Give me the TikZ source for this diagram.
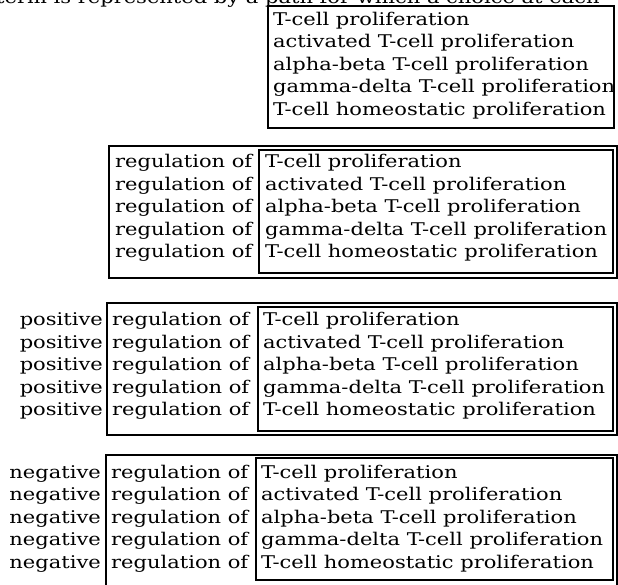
\documentclass[tikz,border=0pt]{standalone}
\usepackage{fontspec}
\setmainfont[FakeStretch=1.2]{DejaVu Serif}

\tikzset{
  term/.style={anchor=base west,inner sep=0pt,font=\fontsize{17.5}{17.5}\selectfont},
  qual/.style={anchor=base east,inner sep=0pt,font=\fontsize{17.5}{17.5}\selectfont},
  frame/.style={line width=1.5pt}
}

\begin{document}
\begin{tikzpicture}[x=1pt,y=-1pt]
		\useasboundingbox (0,0) rectangle (618,584);
		\clip (0,0) rectangle (618,584);
		% running text cut off at the top
		\node[term] (para) at (-4,3) {term is represented by a path for which a choice at each};
		% block 1: the bare terms
		\draw[frame] (268,6) rectangle (614,128);
		\foreach \t [count=\i] in {T-cell proliferation,activated T-cell proliferation,alpha-beta T-cell proliferation,gamma-delta T-cell proliferation,T-cell homeostatic proliferation}
			\node[term] (a\i) at (273,{2.5+22.5*\i}) {\t};
		% block 2: regulation of
		\draw[frame] (109,146) rectangle (617,278);
		\draw[frame] (259,150) rectangle (613,273);
		\foreach \t [count=\i] in {T-cell proliferation,activated T-cell proliferation,alpha-beta T-cell proliferation,gamma-delta T-cell proliferation,T-cell homeostatic proliferation}{
			\node[term] (r\i) at (115,{145+22.5*\i}) {regulation of};
			\node[term] (b\i) at (265,{145+22.5*\i}) {\t};
		}
		% block 3: positive regulation of
		\draw[frame] (107,303) rectangle (617,435);
		\draw[frame] (258,307) rectangle (613,431);
		\foreach \t [count=\i] in {T-cell proliferation,activated T-cell proliferation,alpha-beta T-cell proliferation,gamma-delta T-cell proliferation,T-cell homeostatic proliferation}{
			\node[qual] (p\i) at (103,{303+22.5*\i}) {positive};
			\node[term] (pr\i) at (112,{303+22.5*\i}) {regulation of};
			\node[term] (c\i) at (263,{303+22.5*\i}) {\t};
		}
		% block 4: negative regulation of
		\draw[frame] (106,455) rectangle (617,586);
		\draw[frame] (256,458) rectangle (613,580);
		\foreach \t [count=\i] in {T-cell proliferation,activated T-cell proliferation,alpha-beta T-cell proliferation,gamma-delta T-cell proliferation,T-cell homeostatic proliferation}{
			\node[qual] (n\i) at (101,{455.5+22.5*\i}) {negative};
			\node[term] (nr\i) at (111,{455.5+22.5*\i}) {regulation of};
			\node[term] (d\i) at (261,{455.5+22.5*\i}) {\t};
		}
\end{tikzpicture}
\end{document}
